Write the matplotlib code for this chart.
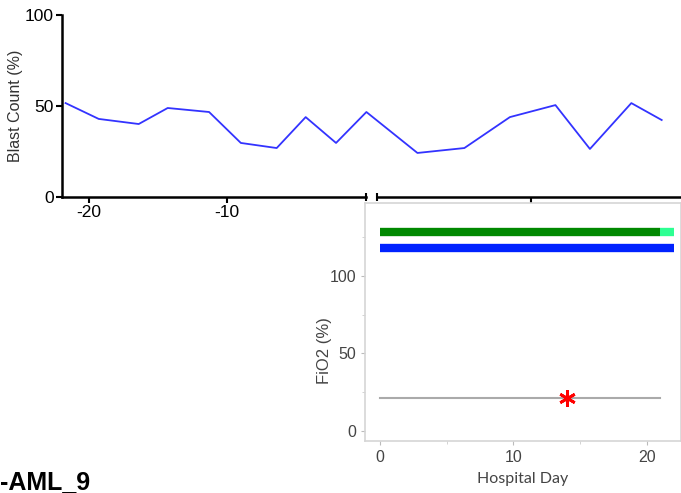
import matplotlib
matplotlib.use('Agg')
from matplotlib import pyplot as plt

plt.rcParams['font.family'] = ['Liberation Sans', 'DejaVu Sans']

# Blast count over time (days relative to admission)
blast_days = [-21.7, -19.3, -16.4, -14.3, -11.3, -9.0, -6.4, -4.3, -2.1, 0.1,
              3.8, 7.2, 10.5, 13.8, 16.3, 19.3, 21.5]
blast_pct = [51.6, 42.9, 40.1, 48.9, 46.7, 29.7, 26.9, 43.9, 29.7, 46.7,
             24.2, 26.9, 43.9, 50.5, 26.4, 51.6, 42.3]

# Hospital course
fio2_days = [0, 21]
fio2_vals = [21, 21]
event_day = [14]
event_fio2 = [21]
green_bar = [0, 21, 128]
green_tail = [21, 22, 128]
blue_bar = [0, 22, 117.8]

fig = plt.figure(figsize=(6.81, 4.93), dpi=100)
W, H = 681, 493

# ---- top panel: blast count
ax1 = fig.add_axes([62 / W, 1 - 197 / H, 619 / W, 182 / H])
ax1.plot(blast_days, blast_pct, color='#3333ff', linewidth=1.3)
ax1.set_xlim(-21.96, 22.9)
ax1.set_ylim(0, 100)
ax1.set_yticks([0, 50, 100])
ax1.set_xticks([-20, -10, 12])
ax1.set_xticklabels(['-20', '-10', ''])
ax1.tick_params(axis='both', labelsize=12.5, width=1.5, length=4, color='black',
                pad=2)
ax1.set_ylabel('Blast Count (%)', fontsize=11.5, color='#333333', labelpad=1)
for s in ['top', 'right', 'bottom']:
    ax1.spines[s].set_visible(False)
ax1.spines['left'].set_linewidth(1.8)
# broken x axis
ax1.plot([-21.96, 0.05], [0, 0], color='black', linewidth=1.8, clip_on=False)
ax1.plot([0.87, 22.9], [0, 0], color='black', linewidth=1.8, clip_on=False)
ax1.plot([0.05, 0.87], [0, 0], color='black', linestyle='none', marker='|',
         markersize=6, markeredgewidth=1.5, clip_on=False)

# ---- bottom panel: FiO2
ax2 = fig.add_axes([365 / W, 1 - 441 / H, 316 / W, 238 / H])
ax2.set_facecolor('white')
ax2.plot(green_bar[:2], [green_bar[2]] * 2, color='#008800', linewidth=6,
         solid_capstyle='butt')
ax2.plot(green_tail[:2], [green_tail[2]] * 2, color='#2dff92', linewidth=6,
         solid_capstyle='butt')
ax2.plot(blue_bar[:2], [blue_bar[2]] * 2, color='#0022ff', linewidth=6,
         solid_capstyle='butt')
ax2.plot(fio2_days, fio2_vals, color='#aaaaaa', linewidth=1.5)
ax2.plot(event_day, event_fio2, linestyle='none', marker=(6, 2, 0),
         markersize=12, markeredgewidth=2, color='red')
ax2.set_xlim(-1.1, 22.55)
ax2.set_ylim(-6.5, 147)
ax2.set_xticks([0, 10, 20])
ax2.set_yticks([0, 50, 100])
ax2.set_xticks([5, 15], minor=True)
ax2.set_yticks([25, 75, 125], minor=True)
ax2.tick_params(axis='both', which='major', labelsize=11.5, labelcolor='#444444',
                color='#bbbbbb', length=3)
ax2.tick_params(axis='both', which='minor', color='#cccccc', length=2)
for s in ax2.spines.values():
    s.set_color('#d5d5d5')
    s.set_linewidth(1.2)
ax2.set_ylabel('FiO2 (%)', fontsize=12, color='#444444')
ax2.yaxis.set_label_coords(-0.104, 0.382)
ax2.set_xlabel('Hospital Day', fontsize=11.5, color='#444444',
               family=['Lato', 'DejaVu Sans'], labelpad=5)

fig.text(0.0, 1 - 482 / H, '-AML_9', fontsize=18, fontweight='bold',
         va='center', ha='left', color='black')

fig.savefig('out.png', dpi=100)
